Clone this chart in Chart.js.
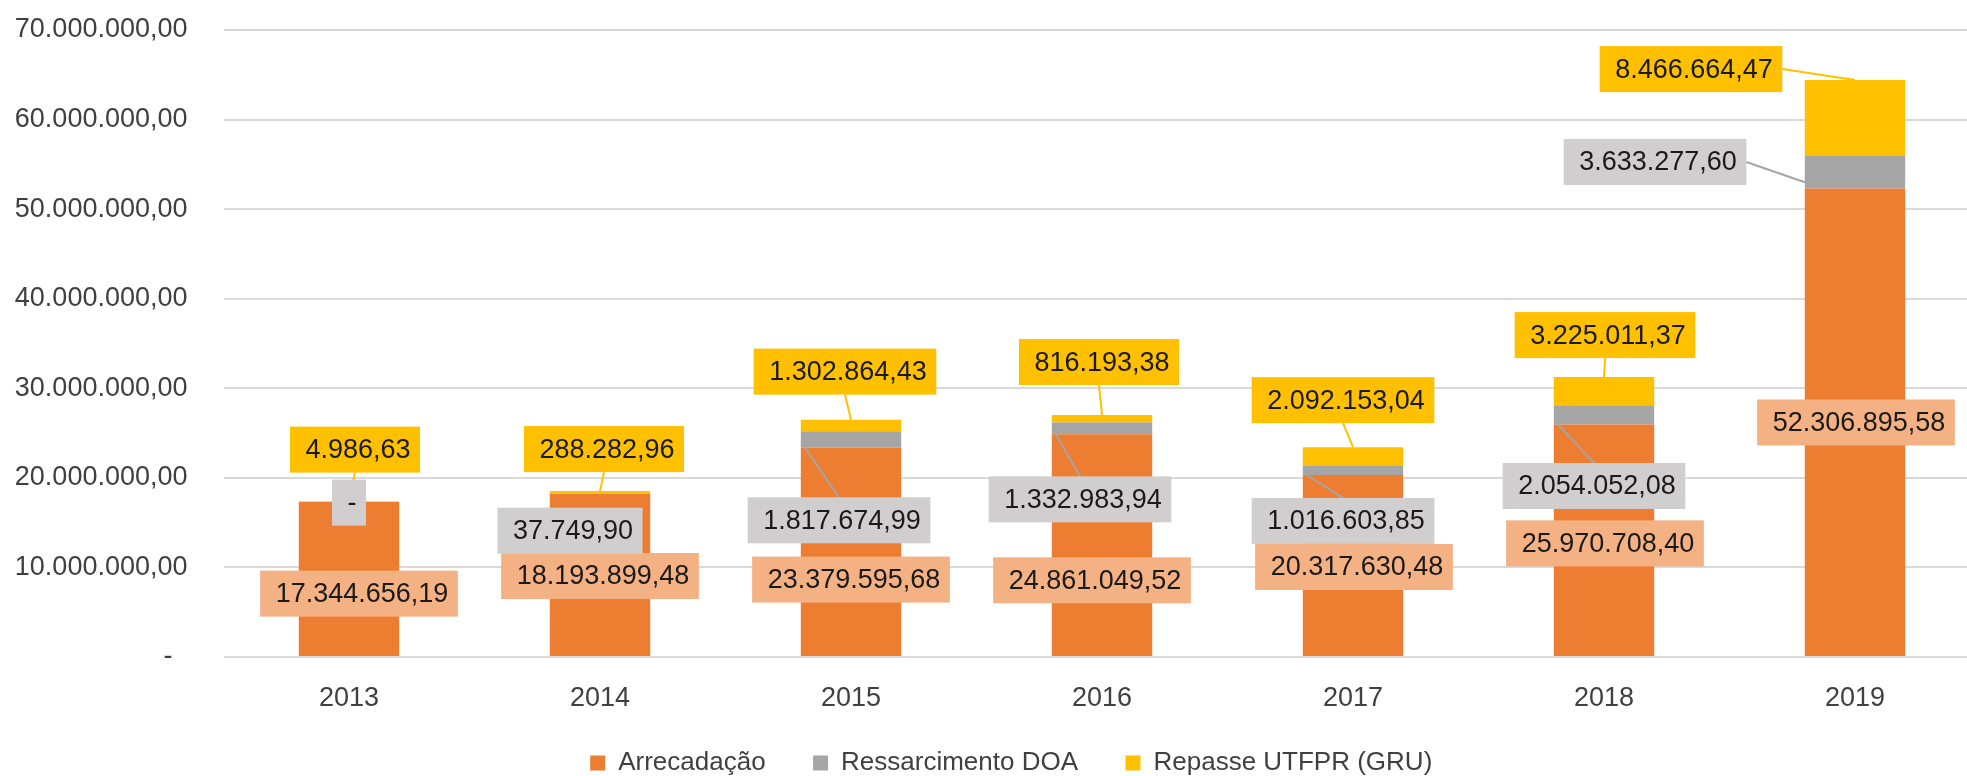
<!DOCTYPE html>
<html>
<head>
<meta charset="utf-8">
<script src="https://cdn.jsdelivr.net/npm/chart.js@4"></script>
<style>
  html, body { margin: 0; padding: 0; background: #fff; overflow: hidden; }
  #wrap { width: 2018px; height: 786px; position: relative; }
</style>
</head>
<body>
<div id="wrap"><canvas id="myChart"></canvas></div>
<script>
const anos = ['2013', '2014', '2015', '2016', '2017', '2018', '2019'];
const arrecadacao = [17344656.19, 18193899.48, 23379595.68, 24861049.52, 20317630.48, 25970708.40, 52306895.58];
const ressarcimento = [0, 37749.90, 1817674.99, 1332983.94, 1016603.85, 2054052.08, 3633277.60];
const repasse = [4986.63, 288282.96, 1302864.43, 816193.38, 2092153.04, 3225011.37, 8466664.47];
const yTicks = [0, 10000000, 20000000, 30000000, 40000000, 50000000, 60000000, 70000000];

// posicao das caixas de rotulo: [dx, dy, tipo de linha guia], relativo ao topo do segmento
// tipo: 0 sem linha, 1 ate o topo da barra, 2 ate a lateral esquerda (base do segmento), 3 lateral esquerda (meio)
const rotulos = [
    [[10, 92], [0, 82], [0, 132], [-10, 146], [1, 92], [1, 119], [1, 234]],
    [[0, 1], [-30, 37], [-12, 89, 2], [-22, 77, 2], [-10, 55, 2], [-10, 80, 2], [-200, 6, 3]],
    [[6, -52, 1], [4, -42, 1], [-6, -48, 1], [-3, -53, 1], [-10, -47, 1], [1, -42, 1], [-164, -11, 1]]
];
const fundos = ['#F4B183', '#D0CECE', '#FFC000'];
const guias = ['#ED7D31', '#A5A5A5', '#FFC000'];

function fmt(v) {
    if (v === 0) return '-';
    let [inteiro, dec] = v.toFixed(2).split('.');
    inteiro = inteiro.replace(/\B(?=(\d{3})+(?!\d))/g, '.');
    return inteiro + ',' + dec;
}

const caixas = {
    id: 'caixas',
    afterDatasetsDraw(chart) {
        const ctx = chart.ctx;
        ctx.save();
        ctx.font = '27px "Liberation Sans"';
        const lista = [];
        chart.data.datasets.forEach((ds, d) => {
            const meta = chart.getDatasetMeta(d);
            meta.data.forEach((el, i) => {
                const p = el.getProps(['x', 'y', 'base', 'width'], true);
                const r = rotulos[d][i];
                const txt = fmt(ds.data[i]);
                const w = ctx.measureText(txt).width + 25;
                const h = 46;
                const cx = p.x + r[0], cy = p.y + r[1];
                lista.push({d, txt, cx, cy, w, h, tipo: r[2] || 0, p});
            });
        });
        // linhas guia primeiro
        lista.forEach(b => {
            if (!b.tipo) return;
            const p = b.p;
            let ax, ay;
            if (b.tipo === 1) { ax = p.x; ay = p.y; }
            else if (b.tipo === 2) { ax = p.x - p.width / 2 + 4; ay = p.base; }
            else { ax = p.x - p.width / 2; ay = (p.y + p.base) / 2 + 10; }
            const rr = b.cx + b.w / 2, t = b.cy - b.h / 2, bo = b.cy + b.h / 2;
            let sx, sy;
            if (ax > rr) { sx = rr; sy = b.cy; }
            else if (ay > bo) { sx = b.cx; sy = bo; }
            else { sx = b.cx; sy = t; }
            ctx.strokeStyle = guias[b.d];
            ctx.lineWidth = 2;
            ctx.beginPath();
            ctx.moveTo(sx, sy);
            ctx.lineTo(ax, ay);
            ctx.stroke();
        });
        ctx.textAlign = 'center';
        ctx.textBaseline = 'middle';
        lista.forEach(b => {
            ctx.fillStyle = fundos[b.d];
            ctx.fillRect(b.cx - b.w / 2, b.cy - b.h / 2, b.w, b.h);
            ctx.fillStyle = '#1a1a1a';
            ctx.fillText(b.txt, b.cx + 3, b.cy + 1);
        });
        ctx.restore();
    }
};

const ctx = document.getElementById('myChart').getContext('2d');

const data = {
    labels: anos,
    datasets: [{
        label: 'Arrecadação',
        data: arrecadacao,
        backgroundColor: '#ED7D31',
        borderWidth: 0
    }, {
        label: 'Ressarcimento DOA',
        data: ressarcimento,
        backgroundColor: '#A5A5A5',
        borderWidth: 0
    }, {
        label: 'Repasse UTFPR (GRU)',
        data: repasse,
        backgroundColor: '#FFC000',
        borderWidth: 0
    }]
};

const config = {
    type: 'bar',
    data: data,
    options: {
        responsive: true,
        maintainAspectRatio: false,
        animation: false,
        barPercentage: 0.4,
        categoryPercentage: 1.0,
        layout: { padding: { left: 14, right: 9.5, top: 30, bottom: 0 } },
        plugins: {
            tooltip: { enabled: false },
            legend: {
                position: 'bottom',
                labels: {
                    boxWidth: 15,
                    boxHeight: 15,
                    padding: 33,
                    color: '#404040',
                    font: { family: '"Liberation Sans"', size: 26 },
                    generateLabels: chart => {
                        const itens = Chart.defaults.plugins.legend.labels.generateLabels(chart);
                        itens.forEach((it, k) => { if (k < itens.length - 1) it.text += '  '; });
                        return itens;
                    }
                }
            }
        },
        scales: {
            x: {
                stacked: true,
                grid: { display: false },
                border: { display: false },
                ticks: {
                    padding: 17,
                    color: '#404040',
                    font: { family: '"Liberation Sans"', size: 27 }
                },
                afterFit: s => { s.height = 60; }
            },
            y: {
                stacked: true,
                min: 0,
                max: 70000000,
                afterBuildTicks: s => { s.ticks = yTicks.map(v => ({ value: v })); },
                afterFit: s => { s.width = 209.5; },
                grid: { color: '#D9D9D9', lineWidth: 2, drawTicks: true, tickLength: 36, tickColor: 'rgba(0,0,0,0)' },
                border: { display: false },
                ticks: {
                    padding: 0,
                    color: '#404040',
                    font: { family: '"Liberation Sans"', size: 27 },
                    callback: v => v === 0 ? '-  ' : fmt(v)
                }
            },
            // eixo vazio a direita, so para centralizar a legenda como no original
            y2: {
                position: 'right',
                grid: { display: false },
                border: { display: false },
                ticks: { display: false },
                afterFit: s => { s.width = 28; }
            }
        }
    },
    plugins: [caixas]
};

let myChart = new Chart(ctx, config);
</script>
</body>
</html>
